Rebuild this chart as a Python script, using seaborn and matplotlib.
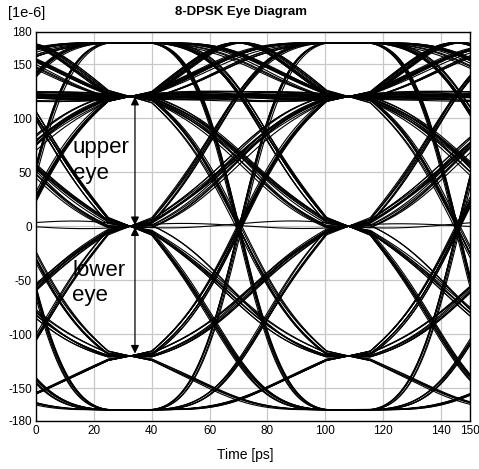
import numpy as np
import pandas as pd
import matplotlib
matplotlib.use("Agg")
import matplotlib.pyplot as plt
import seaborn as sns

# ---- data -------------------------------------------------------------
# differential phase symbols (multiples of pi/4)
symbols = [1, 1, 1, 1, 1, 0, 2, 3, 4, 3, 1, 2, 0, 1, 1, -1, 0, 4, 0, -1,
           1, 3, 2, 1, 1, 1, 0, 4, 2, 1, 3, 1, 0, 2, 1, -1, 1, 3, 4, 0,
           1, 1, 1, -1, 0, 4, 3, 2, 1, 1, 1, 1, 2, 3, 4, 2, 0, 1, 2, 1,
           1, 0, -1, 1, 2, 4, 3, 1, 1, 0, 2, 3, 1, 1, 2, 0, 2, 1, 1, 3,
           2, 0, 2, 4, 2, 3, 1, 1, -1, 1, 2, 0, 4, 2, 1, 3, 1, 1, -1, 0,
           4, 2, 3, 1, 0, 1, -1, 0, 2, 4, 0, 2, 3, 2, 1, 1, 1, 1, 1, -1,
           0, 2, 4, 3, 1, 0, 1, 2, 1, 2, 4, 0, 1, 1, 3, 2, 1, 0, 1, 1,
           2, 4, 3, 2, 0, 1, 1, 3, 4, 2, 1, 0, 2, 3, 1, 1, 2, 2, 4, 3,
           1, 0, 4, 0, 1, 2, 3, 2, 0, -1, 1, 1, 2, 4, 0, 2, 3, 2, 2, 1,
           3, 4, 3, 1, 0, 2, 1, 1, 1, 1, 0, 4, 3, 2, 1, -1, 1, 2, 3, 2]
amplitude = 170.0          # [1e-6]
symbol_period = 75.5       # ps
first_center = 32.5        # ps
window = 150.0             # ps
x_ticks = [0, 20, 40, 60, 80, 100, 120, 140, 150]
y_ticks = [-180, -150, -100, -50, 0, 50, 100, 150, 180]
title = "8-DPSK Eye Diagram"
x_label = "Time [ps]"
unit_label = "[1e-6]"

# pulse-shape parameters
trans_width = 0.8   # fraction of the symbol used by a phase ramp
corner = 0.3        # softening of the ramp corners
isi_mix = 0.25      # share of a raised-cosine pulse (adds pattern ISI)
isi_beta = 0.7


# ---- build traces -------------------------------------------------------
def ramp_pulse(x, w, c):
    a = np.abs(x)
    lo = (1 - w) / 2
    v = np.clip((a - lo) / w, 0, 1)
    s = v - c * np.sin(2 * np.pi * v) / (2 * np.pi)
    return 1 - s


def rc_pulse(x, beta):
    x = np.asarray(x, dtype=float)
    den = 1 - (2 * beta * x) ** 2
    safe = np.where(np.abs(den) < 1e-8, 1.0, den)
    p = np.sinc(x) * np.cos(np.pi * beta * x) / safe
    lim = np.pi / 4 * np.sinc(1 / (2 * beta))
    return np.where(np.abs(den) < 1e-8, lim, p)


d = np.array(symbols, dtype=float)
span = 3
rows = []
t_local = np.linspace(0, window, 451)
trace = 0
for m in range(span, len(d) - span - 2):
    x = (t_local - first_center) / symbol_period
    dphi = np.zeros_like(x)
    for k in range(m - span, m + span + 2):
        xk = x - (k - m)
        dphi += d[k] * ((1 - isi_mix) * ramp_pulse(xk, trans_width, corner)
                        + isi_mix * rc_pulse(xk, isi_beta))
    y = amplitude * np.cos(dphi * np.pi / 4)
    rows.append(pd.DataFrame({"time": t_local, "value": y, "trace": trace}))
    trace += 1
df = pd.concat(rows, ignore_index=True)

# ---- plot ---------------------------------------------------------------
sns.set_theme(style="white")
plt.rcParams["font.family"] = ["Liberation Sans", "DejaVu Sans"]
plt.rcParams["text.color"] = "black"

fig = plt.figure(figsize=(4.79, 4.69), dpi=100)
ax = fig.add_axes([0.0752, 0.1034, 0.9812 - 0.0752, 0.9318 - 0.1034])

sns.lineplot(data=df, x="time", y="value", units="trace", estimator=None,
             color="black", linewidth=0.8, ax=ax, legend=False, sort=False)

ax.set_xlim(0, 150)
ax.set_ylim(-180, 180)
ax.set_xticks(x_ticks)
ax.set_yticks(y_ticks)
ax.set_xticklabels([str(v) for v in x_ticks], fontsize=8.5)
ax.set_yticklabels([str(v) for v in y_ticks], fontsize=8.5)
ax.tick_params(direction="in", length=4, width=0.8, color="black", pad=3,
               labelcolor="black")
ax.grid(True, color="#c8c8c8", linewidth=0.9)
ax.set_axisbelow(True)
for sp in ax.spines.values():
    sp.set_color("black")
    sp.set_linewidth(1.0)
ax.set_xlabel(x_label, fontsize=10, color="black")
ax.xaxis.set_label_coords((245 - 36) / (470 - 36), -(455 - 420.5) / 388.5)
ax.xaxis.label.set_va("center")
ax.set_ylabel("")

fig.text(241 / 479, 1 - 12.5 / 469, title, ha="center", va="center",
         fontsize=9.5, fontweight="bold", color="black")
fig.text(8 / 479, 1 - 13 / 469, unit_label, ha="left", va="center",
         fontsize=10.5, color="black")

arrow_kw = dict(arrowstyle="<|-|>", color="black", lw=0.9,
                mutation_scale=12, shrinkA=0, shrinkB=0)
ax.annotate("", xy=(34.2, 120), xytext=(34.2, 1), arrowprops=arrow_kw)
ax.annotate("", xy=(34.2, -118), xytext=(34.2, -1), arrowprops=arrow_kw)
txt_kw = dict(fontsize=16, ha="left", va="baseline", color="black")
ax.text(12.7, 68, "upper", **txt_kw)
ax.text(12.7, 43.6, "eye", **txt_kw)
ax.text(12.5, -46.3, "lower", **txt_kw)
ax.text(12.5, -69.5, "eye", **txt_kw)

fig.savefig("out.png", dpi=100)
